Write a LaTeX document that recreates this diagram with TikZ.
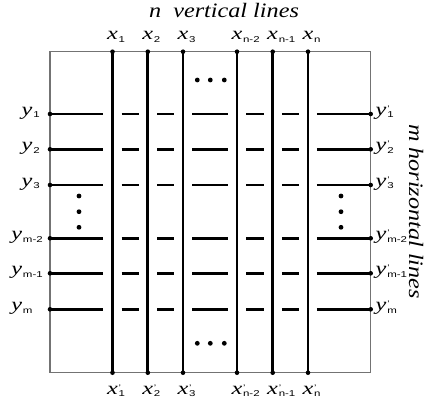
\documentclass[tikz,border=0pt]{standalone}
\usepackage{fontspec}
\setmainfont[FakeStretch=1.35]{Liberation Serif}
\setsansfont[FakeStretch=1.35]{Liberation Sans}
\newfontfamily\titlefont[FakeStretch=1.18]{Liberation Serif}
\newcommand\sublbl[1]{\raisebox{-2.5pt}{\fontsize{8.5}{8.5}\selectfont\sffamily #1}}
\newcommand\lbl[2]{\textit{#1}\kern0.8pt\sublbl{#2}}
\newcommand\lblp[2]{\textit{#1}\kern0.8pt\rlap{\raisebox{3.8pt}{\fontsize{8}{8}\selectfont\sffamily '}}\sublbl{#2}}
\begin{document}
\begin{tikzpicture}[x=1pt,y=-1pt,
  lbl/.style={inner sep=0pt,font=\fontsize{18}{18}\selectfont},
  title/.style={inner sep=0pt,font=\fontsize{20.5}{20.5}\selectfont\titlefont\itshape},
  frame/.style={draw=black!55,line width=1.1pt},
  thickline/.style={line width=2.9pt},
  enddot/.style={fill=black,circle,inner sep=0pt,minimum size=4.6pt},
  bigdot/.style={fill=black,circle,inner sep=0pt,minimum size=4.8pt}]
\useasboundingbox (0,0) rectangle (427,406);
% frame
\coordinate (F1) at (50,51.7);
\coordinate (F2) at (370.7,372.7);
\draw[frame] (F1) rectangle (F2);
% vertical lines
\foreach \i/\x in {1/112.5,2/147.8,3/183,4/237,5/272.7,6/308}{
  \coordinate (T\i) at (\x,51.7);
  \coordinate (B\i) at (\x,372.7);
  \draw[thickline] (T\i) -- (B\i);
  \node[enddot] at (T\i) {};
  \node[enddot] at (B\i) {};
}
% horizontal lines (broken at vertical lines)
\foreach \j/\y in {1/114,2/149.3,3/185,4/238.3,5/273.3,6/309.3}{
  \coordinate (L\j) at (50,\y);
  \coordinate (R\j) at (370.7,\y);
  \draw[thickline] (L\j) -- (103.3,\y);
  \foreach \a/\b in {121.7/139.1,157/174,192.2/228,246.2/263.5,281.9/299}{
    \draw[thickline] (\a,\y) -- (\b,\y);
  }
  \draw[thickline] (316.9,\y) -- (R\j);
  \node[enddot] at (L\j) {};
  \node[enddot] at (R\j) {};
}
% ellipsis dots
\foreach \x in {197.3,210.3,224.3}{
  \node[bigdot] at (\x,80) {};
  \node[bigdot] at (\x,343.3) {};
}
\foreach \y in {196,211.7,227.3}{
  \node[bigdot] at (79,\y) {};
  \node[bigdot] at (341,\y) {};
}
% titles
\node[title,anchor=base] (tn) at (224,17.3) {n\ \ vertical lines};
\node[title,anchor=base,rotate=-90] (tm) at (409,211.5) {m horizontal lines};
% top labels
\node[lbl,anchor=base west] (x1) at (106.8,40) {\lbl{x}{1}};
\node[lbl,anchor=base west] (x2) at (142.1,40) {\lbl{x}{2}};
\node[lbl,anchor=base west] (x3) at (177.3,40) {\lbl{x}{3}};
\node[lbl,anchor=base west] (x4) at (231.3,40) {\lbl{x}{n-2}};
\node[lbl,anchor=base west] (x5) at (267,40) {\lbl{x}{n-1}};
\node[lbl,anchor=base west] (x6) at (302.3,40) {\lbl{x}{n}};
% bottom labels
\node[lbl,anchor=base west] (xp1) at (106.8,394) {\lblp{x}{1}};
\node[lbl,anchor=base west] (xp2) at (142.1,394) {\lblp{x}{2}};
\node[lbl,anchor=base west] (xp3) at (177.3,394) {\lblp{x}{3}};
\node[lbl,anchor=base west] (xp4) at (231.3,394) {\lblp{x}{n-2}};
\node[lbl,anchor=base west] (xp5) at (267,394) {\lblp{x}{n-1}};
\node[lbl,anchor=base west] (xp6) at (302.3,394) {\lblp{x}{n}};
% left labels
\node[lbl,anchor=base west] (y1) at (21.5,115.2) {\lbl{y}{1}};
\node[lbl,anchor=base west] (y2) at (21.5,150.5) {\lbl{y}{2}};
\node[lbl,anchor=base west] (y3) at (21.5,186.2) {\lbl{y}{3}};
\node[lbl,anchor=base west] (y4) at (11.2,239.5) {\lbl{y}{m-2}};
\node[lbl,anchor=base west] (y5) at (11.2,274.5) {\lbl{y}{m-1}};
\node[lbl,anchor=base west] (y6) at (11.2,310.5) {\lbl{y}{m}};
% right labels
\node[lbl,anchor=base west] (yp1) at (375.5,115.2) {\lblp{y}{1}};
\node[lbl,anchor=base west] (yp2) at (375.5,150.5) {\lblp{y}{2}};
\node[lbl,anchor=base west] (yp3) at (375.5,186.2) {\lblp{y}{3}};
\node[lbl,anchor=base west] (yp4) at (375.5,239.5) {\lblp{y}{m-2}};
\node[lbl,anchor=base west] (yp5) at (375.5,274.5) {\lblp{y}{m-1}};
\node[lbl,anchor=base west] (yp6) at (375.5,310.5) {\lblp{y}{m}};
\end{tikzpicture}
\end{document}
